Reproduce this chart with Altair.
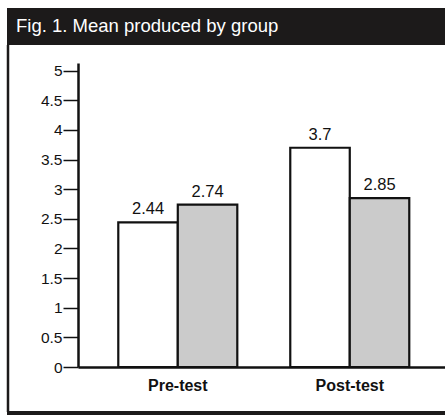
import altair as alt
import pandas as pd

title_text = "Fig. 1. Mean produced by group"
phases = ["Pre-test", "Pre-test", "Post-test", "Post-test"]
groups = ["Group A", "Group B", "Group A", "Group B"]
means = [2.44, 2.74, 3.7, 2.85]
labels = ["2.44", "2.74", "3.7", "2.85"]
phase_order = ["Pre-test", "Post-test"]
group_order = ["Group A", "Group B"]
group_colors = ["#ffffff", "#cbcbcb"]
y_ticks = [0, 0.5, 1, 1.5, 2, 2.5, 3, 3.5, 4, 4.5, 5]

df = pd.DataFrame({"phase": phases, "group": groups, "mean": means, "label": labels})

FONT = "Liberation Sans"

x_enc = alt.X(
    "phase:N",
    sort=phase_order,
    title=None,
    scale=alt.Scale(paddingInner=0.308, paddingOuter=0.221, align=0.53),
    axis=alt.Axis(
        labelFont=FONT, labelFontSize=16, labelFontWeight="bold", labelColor="#111111",
        labelPadding=10, ticks=False, domainColor="#111111", domainWidth=2.5,
        labelAngle=0, grid=False,
    ),
)
xoff = alt.XOffset("group:N", sort=group_order, scale=alt.Scale(paddingInner=0, paddingOuter=0))
y_enc = alt.Y(
    "mean:Q",
    title=None,
    scale=alt.Scale(domain=[0, 5.13], nice=False, zero=True),
    axis=alt.Axis(
        values=y_ticks, format="~g", labelFont=FONT, labelFontSize=15.5, labelColor="#111111",
        tickSize=15, tickColor="#111111", tickWidth=1.5, labelPadding=1,
        labelOverlap=False, labelBound=False,
        domainColor="#111111", domainWidth=2.5, grid=False,
    ),
)

bars = alt.Chart(df).mark_bar(stroke="#111111", strokeWidth=2.2, opacity=1).encode(
    x=x_enc,
    xOffset=xoff,
    y=y_enc,
    fill=alt.Fill("group:N", scale=alt.Scale(domain=group_order, range=group_colors), legend=None),
)

texts = alt.Chart(df).mark_text(
    font=FONT, fontSize=16.5, color="#111111", baseline="alphabetic", dy=-8
).encode(
    x=x_enc,
    xOffset=xoff,
    y=y_enc,
    text="label:N",
)

one = alt.Chart(pd.DataFrame({"t": [title_text]}))

title_bar = one.mark_rect(color="#1c1a1a").encode(
    x=alt.value(-71), x2=alt.value(367), y=alt.value(-55), y2=alt.value(-18)
)
title_lbl = one.mark_text(
    font=FONT, fontSize=18.5, color="white", align="left", baseline="alphabetic"
).encode(x=alt.value(-62), y=alt.value(-31), text="t:N")
left_border = one.mark_rule(color="#1c1a1a", strokeWidth=2.5).encode(
    x=alt.value(-70), y=alt.value(-18), y2=alt.value(349)
)
bottom_bar = one.mark_rect(color="#1c1a1a").encode(
    x=alt.value(-71), x2=alt.value(367), y=alt.value(348), y2=alt.value(352)
)

chart = alt.layer(title_bar, title_lbl, left_border, bottom_bar, bars, texts).properties(
    width=367, height=304,
    autosize=alt.AutoSizeParams(type="none"),
    padding={"left": 78, "top": 63, "right": 0, "bottom": 48},
    background="white",
).configure_view(stroke=None).configure_axisY(
    labelFontSize=15.5, labelOverlap=False, labelFont=FONT
)

chart.save("out.html", embed_options={"renderer": "svg", "actions": False})
